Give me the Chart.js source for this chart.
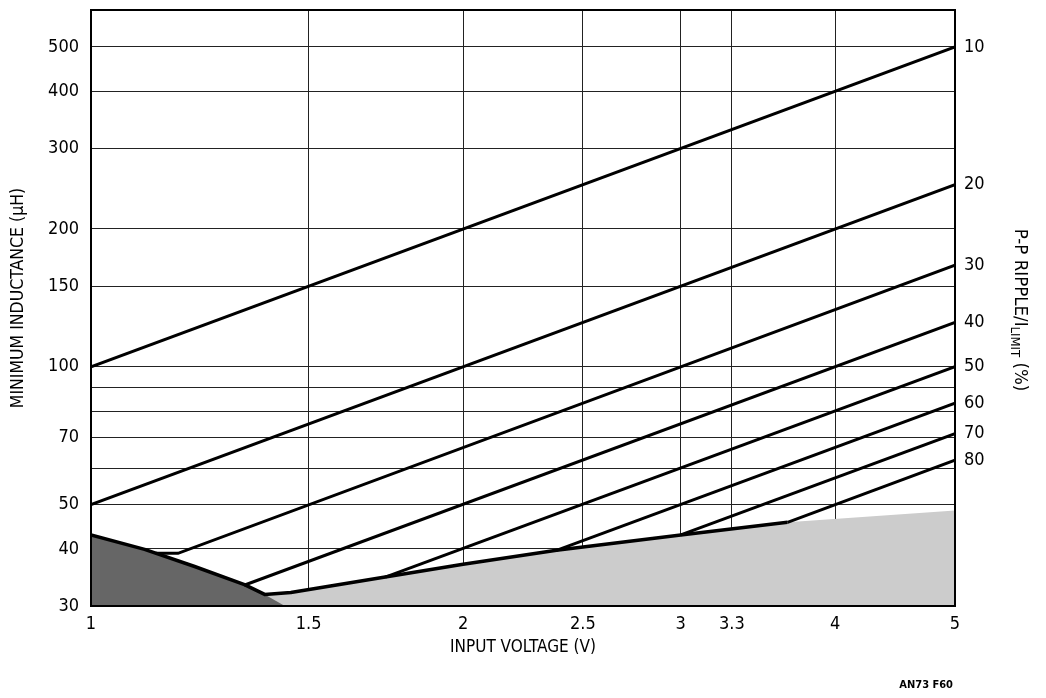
<!DOCTYPE html>
<html>
<head>
<meta charset="utf-8">
<script src="https://cdn.jsdelivr.net/npm/chart.js@4/dist/chart.umd.min.js"></script>
<style>
  html, body { margin: 0; padding: 0; background: #fff; }
  #wrap { width: 1046px; height: 698px; }
</style>
</head>
<body>
<div id="wrap"><canvas id="inductance" width="1046" height="698"></canvas></div>
<script>
const FONT = "'Liberation Sans Narrow', 'Arial Narrow', 'DejaVu Sans Condensed', sans-serif";

// axis ticks
const xTicks = [1, 1.5, 2, 2.5, 3, 3.3, 4, 5];
const yTicks = [30, 40, 50, 60, 70, 80, 90, 100, 150, 200, 300, 400, 500];
const yLabeled = [30, 40, 50, 70, 100, 150, 200, 300, 400, 500];

// ripple lines (P-P ripple / I limit, %)
const rippleLabels = ["10", "20", "30", "40", "50", "60", "70", "80"];
const rippleV = [
  [1, 5],
  [1, 5],
  [1.128, 1.176, 5],
  [1.33, 5],
  [1.73, 5],
  [2.38, 5],
  [3.0, 5],
  [3.66, 5],
];
const rippleL = [
  [100, 500],
  [50, 250],
  [39.1, 39.1, 166.7],
  [33.3, 125],
  [34.7, 100],
  [39.7, 83.3],
  [42.9, 71.4],
  [45.7, 62.5],
];

// bold lower limit
const edgeV = [1, 1.105, 1.213, 1.331, 1.382, 1.451, 1.73, 2, 2.38, 3.0, 3.66];
const edgeL = [42.9, 39.9, 36.6, 33.4, 31.8, 32.1, 34.7, 37.0, 39.7, 42.9, 45.7];

// dark grey region
const darkV = [1, 1.105, 1.213, 1.331, 1.382, 1.435];
const darkL = [42.9, 39.9, 36.6, 33.4, 31.8, 30];

// light grey region
const lightV = [1.382, 1.451, 1.73, 2, 2.38, 3.0, 3.66, 5];
const lightL = [31.8, 32.1, 34.7, 37.0, 39.7, 42.9, 45.7, 48.5];

const pts = (xs, ys) => xs.map((v, i) => ({ x: v, y: ys[i] }));

const datasets = rippleV.map((xs, i) => ({
  label: rippleLabels[i],
  data: pts(xs, rippleL[i]),
  borderColor: "#000",
  borderWidth: 3,
  pointRadius: 0,
  fill: false,
  order: 0,
}));
datasets.push({
  label: "limit",
  data: pts(edgeV, edgeL),
  borderColor: "#000",
  borderWidth: 3.5,
  borderJoinStyle: "round",
  pointRadius: 0,
  fill: false,
  order: 1,
});
datasets.push({
  label: "dark",
  data: pts(darkV, darkL),
  borderWidth: 0,
  borderColor: "rgba(0,0,0,0)",
  backgroundColor: "#666666",
  pointRadius: 0,
  fill: "start",
  order: 2,
});
datasets.push({
  label: "light",
  data: pts(lightV, lightL),
  borderWidth: 0,
  borderColor: "rgba(0,0,0,0)",
  backgroundColor: "#cccccc",
  pointRadius: 0,
  fill: "start",
  order: 3,
});

// right-hand labels sit at the end of each ripple line
const rightTicks = rippleL.map((ys, i) => ({ value: ys[ys.length - 1], label: rippleLabels[i] }))
  .sort((a, b) => a.value - b.value);

const textPlugin = {
  id: "texts",
  afterDraw(chart) {
    const ctx = chart.ctx;
    const a = chart.chartArea;
    ctx.save();
    ctx.strokeStyle = "#000";
    ctx.lineWidth = 2;
    ctx.strokeRect(a.left, a.top, a.right - a.left, a.bottom - a.top);

    ctx.fillStyle = "#000";
    ctx.textAlign = "center";
    ctx.textBaseline = "middle";
    ctx.font = "17px " + FONT;
    ctx.fillText("INPUT VOLTAGE (V)", (a.left + a.right) / 2, 648);

    ctx.save();
    ctx.translate(18, 298);
    ctx.rotate(-Math.PI / 2);
    ctx.font = "17.5px " + FONT;
    ctx.fillText("MINIMUM INDUCTANCE (\u00B5H)", 0, 0);
    ctx.restore();

    // right title with subscript
    ctx.save();
    ctx.translate(1021, 310);
    ctx.rotate(Math.PI / 2);
    ctx.textAlign = "left";
    ctx.textBaseline = "alphabetic";
    const big = "18.5px " + FONT, small = "13px " + FONT;
    const parts = [["P-P RIPPLE/I", big, 0], ["LIMIT", small, 4], [" (%)", big, 0]];
    let w = 0;
    parts.forEach(p => { ctx.font = p[1]; w += ctx.measureText(p[0]).width; });
    let x = -w / 2;
    parts.forEach(p => {
      ctx.font = p[1];
      ctx.fillText(p[0], x, 6 + p[2]);
      x += ctx.measureText(p[0]).width;
    });
    ctx.restore();

    ctx.textAlign = "right";
    ctx.font = "bold 11px " + FONT;
    ctx.fillText("AN73 F60", 953, 685);
    ctx.restore();
  },
};

const tickFont = { family: FONT, size: 18 };

new Chart(document.getElementById("inductance"), {
  type: "line",
  data: { datasets: datasets },
  options: {
    responsive: false,
    animation: false,
    layout: { padding: { top: 10, left: 0, right: 0, bottom: 0 } },
    plugins: { legend: { display: false }, tooltip: { enabled: false } },
    scales: {
      x: {
        type: "logarithmic",
        position: "bottom",
        min: 1,
        max: 5,
        z: 1,
        afterBuildTicks: s => { s.ticks = xTicks.map(v => ({ value: v })); },
        afterFit: s => { s.height = 92; s.paddingLeft = 0; s.paddingRight = 0; },
        ticks: {
          autoSkip: false,
          maxRotation: 0,
          padding: 8,
          color: "#000",
          font: tickFont,
          callback: v => String(v),
        },
        grid: { color: "#222", lineWidth: 1, drawTicks: false },
        border: { display: false },
      },
      y: {
        type: "logarithmic",
        position: "left",
        min: 30,
        max: 602,
        z: 1,
        afterBuildTicks: s => { s.ticks = yTicks.map(v => ({ value: v })); },
        afterFit: s => { s.width = 91; s.paddingTop = 0; s.paddingBottom = 0; },
        ticks: {
          autoSkip: false,
          padding: 12,
          color: "#000",
          font: tickFont,
          callback: v => (yLabeled.includes(v) ? String(v) : ""),
        },
        grid: { color: "#222", lineWidth: 1, drawTicks: false },
        border: { display: false },
      },
      y2: {
        type: "logarithmic",
        position: "right",
        min: 30,
        max: 602,
        afterBuildTicks: s => { s.ticks = rightTicks.map(t => ({ value: t.value })); },
        afterFit: s => { s.width = 91; s.paddingTop = 0; s.paddingBottom = 0; },
        ticks: {
          autoSkip: false,
          padding: 9,
          color: "#000",
          font: tickFont,
          callback: (v, i) => rightTicks[i].label,
        },
        grid: { display: false, drawTicks: false },
        border: { display: false },
      },
    },
  },
  plugins: [textPlugin],
});
</script>
</body>
</html>
